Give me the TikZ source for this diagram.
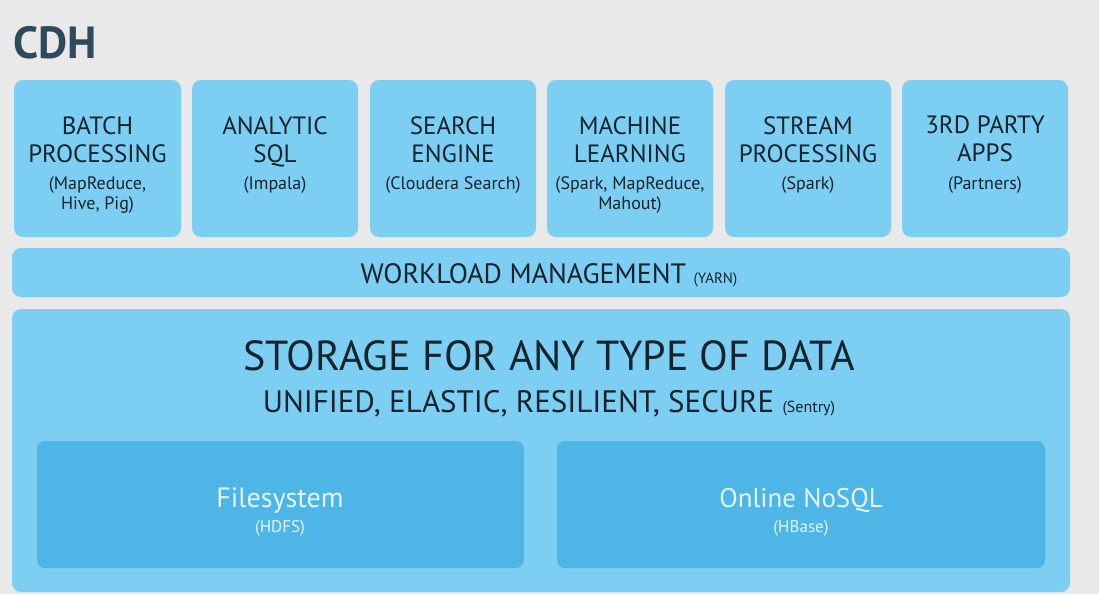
\documentclass[tikz,border=0pt]{standalone}
\usepackage{fontspec}
\setmainfont{PT Sans}
\definecolor{bg}{HTML}{E9E9E9}
\definecolor{lb}{HTML}{7DCEF3}
\definecolor{db}{HTML}{4DB6E7}
\definecolor{tx}{HTML}{14232C}
\definecolor{ttl}{HTML}{2E4B5E}
\definecolor{wt}{HTML}{E6F5FC}
\begin{document}
\begin{tikzpicture}[x=1pt,y=-1pt,
  panel/.style={fill=lb,rounded corners=9pt},
  inner/.style={fill=db,rounded corners=8pt},
  apptext/.style={text=tx,align=center,anchor=north,inner sep=0pt},
  big/.style={font=\fontsize{25}{28}\selectfont},
  small/.style={font=\fontsize{18}{20}\selectfont}]
\fill[bg] (0,0) rectangle (1099,594);
\useasboundingbox (0,0) rectangle (1099,594);
\node[anchor=west,text=ttl,font=\fontsize{45}{45}\selectfont\bfseries,inner sep=0pt] (cdh) at (13,43) {CDH};
% app boxes
\foreach \n/\xa/\xb/\t/\s in {b1/14/181/{BATCH\\PROCESSING}/{(MapReduce,\\Hive, Pig)},
  b2/192/358/{ANALYTIC\\SQL}/{(Impala)},
  b3/370/536/{SEARCH\\ENGINE}/{(Cloudera Search)},
  b4/547/713/{MACHINE\\LEARNING}/{(Spark, MapReduce,\\Mahout)},
  b5/725/891/{STREAM\\PROCESSING}/{(Spark)},
  b6/902/1068/{3RD PARTY\\APPS}/{(Partners)}}{
  \fill[panel] (\xa,80) rectangle (\xb,237);
  \node[apptext,big] (\n t) at ({(\xa+\xb)/2},116) {\t};
  \node[apptext,small] (\n s) at ({(\xa+\xb)/2},176) {\s};
}
\fill[panel] (12,248) rectangle (1070,297);
\node[text=tx,inner sep=0pt] (wl) at (549,275) {\fontsize{28}{28}\selectfont WORKLOAD MANAGEMENT \fontsize{15}{15}\selectfont(YARN)};
\fill[panel] (12,309) rectangle (1070,592);
\node[text=tx,inner sep=0pt,font=\fontsize{42}{42}\selectfont] (st) at (549,356) {STORAGE FOR ANY TYPE OF DATA};
\node[text=tx,inner sep=0pt] (un) at (549,404) {\fontsize{31}{31}\selectfont UNIFIED, ELASTIC, RESILIENT, SECURE \fontsize{16}{16}\selectfont(Sentry)};
\fill[inner] (37,441) rectangle (524,568);
\fill[inner] (557,441) rectangle (1045,568);
\node[text=wt,inner sep=0pt,font=\fontsize{28}{28}\selectfont] (fs) at (280,500) {Filesystem};
\node[text=wt,inner sep=0pt,font=\fontsize{17}{17}\selectfont] (fsh) at (280,528) {(HDFS)};
\node[text=wt,inner sep=0pt,font=\fontsize{27}{27}\selectfont] (ns) at (801,500) {Online NoSQL};
\node[text=wt,inner sep=0pt,font=\fontsize{17}{17}\selectfont] (nsh) at (801,528) {(HBase)};
\end{tikzpicture}
\end{document}
